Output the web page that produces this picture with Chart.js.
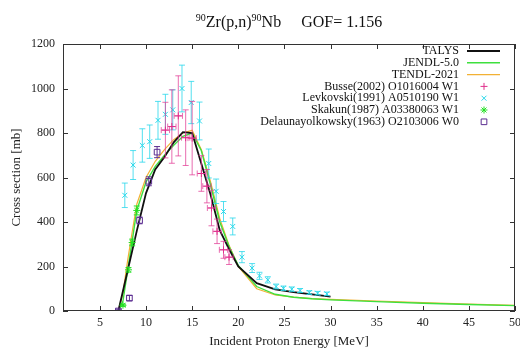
<!DOCTYPE html>
<html>
<head>
<meta charset="utf-8">
<script src="https://cdn.jsdelivr.net/npm/chart.js@4"></script>
<style>
  html, body { margin: 0; padding: 0; background: #fff; }
  canvas { display: block; }
</style>
</head>
<body>
<canvas id="xsChart" width="520" height="352"></canvas>
<script>
// axis ticks
const xTicks = [5, 10, 15, 20, 25, 30, 35, 40, 45, 50];
const yTicks = [0, 200, 400, 600, 800, 1000, 1200];

// evaluations (lines)
const talysE = [6, 7, 8, 9, 10, 11, 12, 13, 14, 15, 16, 17, 18, 19, 20, 22, 24, 26, 28, 30];
const talysXS = [0, 0, 180, 360, 530, 636, 692, 758, 804, 800, 662, 522, 362, 278, 200, 125, 97, 85, 75, 65];

const jendlE = [7, 7.5, 8, 8.5, 9, 10, 11, 12, 13, 14, 15, 16, 17, 18, 19, 20, 22, 24, 26, 28, 30, 35, 40, 45, 50];
const jendlXS = [0, 45, 180, 315, 452, 580, 650, 700, 745, 785, 800, 720, 565, 400, 290, 205, 110, 75, 62, 55, 50, 42, 35, 29, 24];

const tendlE = [7, 7.5, 8, 8.5, 9, 10, 11, 12, 13, 14, 15, 16, 17, 18, 19, 20, 22, 24, 26, 28, 30, 35, 40, 45, 50];
const tendlXS = [0, 80, 225, 355, 480, 600, 673, 725, 770, 800, 812, 725, 580, 415, 295, 200, 100, 72, 62, 56, 52, 45, 38, 31, 25];

// experimental data
const busseE = [12.1, 12.8, 13.5, 14.3, 15.0, 16.0, 16.6, 17.1, 17.7, 18.4, 19.0];
const busseXS = [813, 829, 877, 779, 777, 618, 561, 463, 358, 275, 242];
const busseErr = [125, 165, 180, 125, 165, 80, 75, 80, 55, 38, 33];
const busseErrE = [0.45, 0.45, 0.45, 0.45, 0.45, 0.45, 0.45, 0.45, 0.45, 0.45, 0.45];

const levE = [7.7, 8.6, 9.6, 10.4, 11.3, 12.1, 12.9, 13.9, 14.9, 15.8, 16.8, 17.6, 18.4, 19.4, 20.4, 21.5, 22.3, 23.2, 24.1, 24.9, 25.8, 26.7, 27.7, 28.6, 29.6];
const levXS = [520, 656, 744, 761, 857, 884, 904, 1000, 937, 854, 663, 538, 447, 380, 242, 193, 158, 140, 110, 102, 98, 92, 83, 80, 77];
const levErr = [55, 65, 75, 75, 85, 90, 90, 105, 95, 85, 65, 55, 45, 38, 25, 20, 16, 14, 11, 10, 10, 9, 8, 8, 8];

const skakunE = [7.5, 8.1, 8.5, 9.0];
const skakunXS = [26, 185, 308, 452];
const skakunErr = [5, 10, 15, 20];

const delE = [7.0, 8.2, 9.3, 10.3, 11.2];
const delXS = [0, 58, 407, 583, 714];
const delErr = [8, 12, 15, 20, 25];

const serif = "'Liberation Serif', 'DejaVu Serif', serif";

function pts(xs, ys) {
    return xs.map((x, i) => ({ x: x, y: ys[i] }));
}

// error bars drawn through the scales, before each dataset's points
const errorBars = {
    id: 'errorBars',
    beforeDatasetDraw(chart, args) {
        const ds = chart.data.datasets[args.index];
        if (!ds.errY) return;
        const xs = chart.scales.x, ys = chart.scales.y;
        const ctx = chart.ctx;
        const area = chart.chartArea;
        ctx.save();
        ctx.beginPath();
        ctx.rect(area.left, area.top, area.width, area.height);
        ctx.clip();
        ctx.strokeStyle = ds.errColor;
        ctx.lineWidth = 1;
        ds.data.forEach((p, i) => {
            const px = xs.getPixelForValue(p.x);
            const y1 = ys.getPixelForValue(p.y - ds.errY[i]);
            const y2 = ys.getPixelForValue(p.y + ds.errY[i]);
            ctx.beginPath();
            ctx.moveTo(px, y1); ctx.lineTo(px, y2);
            ctx.moveTo(px - 3, y1); ctx.lineTo(px + 3, y1);
            ctx.moveTo(px - 3, y2); ctx.lineTo(px + 3, y2);
            if (ds.errX) {
                const py = ys.getPixelForValue(p.y);
                const x1 = xs.getPixelForValue(p.x - ds.errX[i]);
                const x2 = xs.getPixelForValue(p.x + ds.errX[i]);
                ctx.moveTo(x1, py); ctx.lineTo(x2, py);
                ctx.moveTo(x1, py - 3); ctx.lineTo(x1, py + 3);
                ctx.moveTo(x2, py - 3); ctx.lineTo(x2, py + 3);
            }
            ctx.stroke();
        });
        ctx.restore();
    }
};

// frame with inward ticks on all four sides, title and legend
const frame = {
    id: 'frame',
    afterDraw(chart) {
        const ctx = chart.ctx;
        const a = chart.chartArea;
        const xs = chart.scales.x, ys = chart.scales.y;
        ctx.save();
        ctx.strokeStyle = '#333';
        ctx.lineWidth = 1;
        ctx.strokeRect(a.left + 0.5, a.top + 0.5, a.width - 1, a.height - 1);
        ctx.beginPath();
        xTicks.forEach((v) => {
            const px = Math.round(xs.getPixelForValue(v)) + 0.5;
            ctx.moveTo(px, a.bottom); ctx.lineTo(px, a.bottom - 5);
            ctx.moveTo(px, a.top); ctx.lineTo(px, a.top + 5);
        });
        yTicks.forEach((v) => {
            const py = Math.round(ys.getPixelForValue(v)) + 0.5;
            ctx.moveTo(a.left, py); ctx.lineTo(a.left + 5, py);
            ctx.moveTo(a.right, py); ctx.lineTo(a.right - 5, py);
        });
        ctx.stroke();

        // title with superscripts
        ctx.fillStyle = '#111';
        ctx.textBaseline = 'alphabetic';
        const parts = [
            ['90', 10, -6], ['Zr(p,n)', 16, 0], ['90', 10, -6], ['Nb', 16, 0],
            ['     GOF= 1.156', 16, 0]
        ];
        let total = 0;
        parts.forEach((p) => { ctx.font = p[1] + 'px ' + serif; total += ctx.measureText(p[0]).width; });
        let tx = (a.left + a.right) / 2 - total / 2;
        parts.forEach((p) => {
            ctx.font = p[1] + 'px ' + serif;
            ctx.fillText(p[0], tx, 27 + p[2]);
            tx += ctx.measureText(p[0]).width;
        });

        // legend, text right-aligned with sample on the right
        ctx.font = '12px ' + serif;
        ctx.textAlign = 'right';
        ctx.textBaseline = 'middle';
        const textRight = a.right - 56;
        chart.data.datasets.forEach((ds, i) => {
            const y = a.top + 7 + i * 11.8;
            ctx.fillStyle = '#111';
            ctx.fillText(ds.label, textRight, y);
            if (ds.showLine) {
                ctx.strokeStyle = ds.borderColor;
                ctx.lineWidth = ds.borderWidth;
                ctx.beginPath();
                ctx.moveTo(textRight + 8, y); ctx.lineTo(textRight + 41, y);
                ctx.stroke();
            } else {
                ctx.strokeStyle = ds.pointBorderColor;
                ctx.fillStyle = 'rgba(0,0,0,0)';
                ctx.lineWidth = 1;
                Chart.helpers.drawPoint(ctx, {
                    pointStyle: ds.pointStyle,
                    radius: ds.pointRadius,
                    borderWidth: ds.pointBorderWidth
                }, textRight + 25, y);
            }
        });
        ctx.restore();
    }
};

const lineSet = (label, xs, ys, color, width, order) => ({
    label: label,
    data: pts(xs, ys),
    showLine: true,
    borderColor: color,
    borderWidth: width,
    pointRadius: 0,
    fill: false,
    tension: 0,
    order: order
});

const pointSet = (label, xs, ys, color, style, radius, err, errColor, errX) => ({
    label: label,
    data: pts(xs, ys),
    showLine: false,
    pointStyle: style,
    pointRadius: radius,
    pointBorderColor: color,
    pointBackgroundColor: 'rgba(0,0,0,0)',
    pointBorderWidth: 1,
    errY: err,
    errX: errX,
    errColor: errColor,
    order: 1
});

const config = {
    type: 'scatter',
    data: {
        datasets: [
            lineSet('TALYS', talysE, talysXS, '#111111', 1.8, 4),
            lineSet('JENDL-5.0', jendlE, jendlXS, '#3ee03e', 1.4, 5),
            lineSet('TENDL-2021', tendlE, tendlXS, '#f2b134', 1.2, 6),
            pointSet('Busse(2002) O1016004 W1', busseE, busseXS, '#e0308c', 'cross', 3.5, busseErr, 'rgba(225,60,150,0.75)', busseErrE),
            pointSet('Levkovski(1991) A0510190 W1', levE, levXS, '#25d8ea', 'crossRot', 3.5, levErr, 'rgba(40,215,235,0.8)'),
            pointSet('Skakun(1987) A03380063 W1', skakunE, skakunXS, '#22e022', 'star', 3.5, skakunErr, '#22e022'),
            pointSet('Delaunayolkowsky(1963) O2103006 W0', delE, delXS, '#5b2d91', 'rect', 4, delErr, '#5b2d91')
        ]
    },
    options: {
        responsive: false,
        devicePixelRatio: 1,
        animation: false,
        layout: { padding: { left: 0, right: 4, top: 44, bottom: 0 } },
        plugins: {
            legend: { display: false },
            title: { display: false },
            tooltip: { enabled: false }
        },
        scales: {
            x: {
                type: 'linear',
                min: 1,
                max: 50,
                afterBuildTicks: (axis) => { axis.ticks = xTicks.map((v) => ({ value: v })); },
                afterFit: (axis) => { axis.height = 41; axis.paddingLeft = 0; axis.paddingRight = 0; },
                grid: { display: false, drawTicks: false },
                border: { display: false },
                ticks: {
                    padding: 5, color: '#222', font: { family: serif, size: 12 }, maxRotation: 0,
                    callback: (v) => String(v)
                },
                title: {
                    display: true,
                    text: 'Incident Proton Energy [MeV]',
                    color: '#222',
                    font: { family: serif, size: 13 },
                    padding: { top: 0, bottom: 3 }
                }
            },
            y: {
                type: 'linear',
                min: 0,
                max: 1200,
                afterBuildTicks: (axis) => { axis.ticks = yTicks.map((v) => ({ value: v })); },
                afterFit: (axis) => { axis.width = 63; },
                grid: { display: false, drawTicks: false },
                border: { display: false },
                ticks: {
                    padding: 8, color: '#222', font: { family: serif, size: 12 },
                    callback: (v) => String(v)
                },
                title: {
                    display: true,
                    text: 'Cross section [mb]',
                    color: '#222',
                    font: { family: serif, size: 13 },
                    padding: { top: 9, bottom: 0 }
                }
            }
        }
    },
    plugins: [errorBars, frame]
};

let ctx = document.getElementById('xsChart').getContext('2d');
var myChart = new Chart(ctx, config);
</script>
</body>
</html>
